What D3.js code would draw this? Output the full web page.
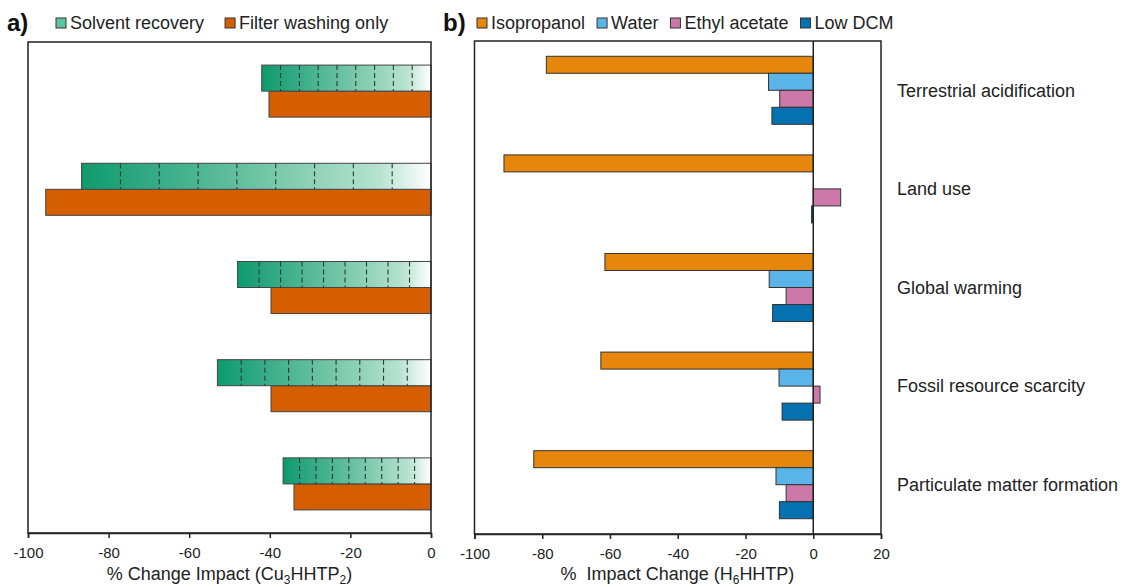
<!DOCTYPE html>
<html>
<head>
<meta charset="utf-8">
<script src="https://cdn.jsdelivr.net/npm/d3@7"></script>
<style>
  body { margin: 0; background: #fff; }
  svg { font-family: "Liberation Sans", Arial, sans-serif; }
</style>
</head>
<body>
<div id="chart"></div>
<script>
// categories (top to bottom)
const categories = ['Terrestrial acidification', 'Land use', 'Global warming',
                    'Fossil resource scarcity', 'Particulate matter formation'];

// panel a) Cu3HHTP2
const series_a = ['Solvent recovery', 'Filter washing only'];
const solvent_recovery = [-42, -86.7, -48, -53, -36.7];
const filter_washing = [-40.2, -95.6, -39.7, -39.7, -34];

// panel b) H6HHTP
const series_b = ['Isopropanol', 'Water', 'Ethyl acetate', 'Low DCM'];
const isopropanol = [-78.8, -91.3, -61.5, -62.7, -82.5];
const water = [-13.2, 0, -13, -10.1, -11];
const ethyl_acetate = [-9.9, 8.1, -8, 2, -8];
const low_dcm = [-12.2, -0.5, -12, -9.2, -10];

const ticks_a = [-100, -80, -60, -40, -20, 0];
const ticks_b = [-100, -80, -60, -40, -20, 0, 20];

const colors_b = ['#e6860a', '#5ab4e8', '#cc78a8', '#0571b1'];
const filter_color = '#d55e00';

const width = 1124, height = 587;
const svg = d3.select('#chart').append('svg')
  .attr('width', width)
  .attr('height', height);

const defs = svg.append('defs');
const grad = defs.append('linearGradient').attr('id', 'green_grad');
grad.append('stop').attr('offset', '0%').attr('stop-color', '#0e9a6e');
grad.append('stop').attr('offset', '45%').attr('stop-color', '#63bf9f');
grad.append('stop').attr('offset', '85%').attr('stop-color', '#b6e2d2');
grad.append('stop').attr('offset', '100%').attr('stop-color', '#ffffff');

// ---------- panel a ----------
const xa = d3.scaleLinear().domain([-100, 0]).range([28, 431]);
const ya = d3.scaleBand().domain(categories).range([42, 533])
  .paddingInner(0.47).paddingOuter(0.235);
const ya_inner = d3.scaleBand().domain(series_a).range([0, ya.bandwidth()]);

const pa = svg.append('g');

const rows_a = categories.map((c, i) => ({cat: c, sr: solvent_recovery[i], fw: filter_washing[i]}));

// filter washing bars
pa.selectAll('rect.fw')
  .data(rows_a)
  .join('rect')
  .attr('class', 'fw')
  .attr('x', d => xa(d.fw))
  .attr('y', d => ya(d.cat) + ya_inner('Filter washing only'))
  .attr('width', d => xa(0) - xa(d.fw))
  .attr('height', ya_inner.bandwidth())
  .attr('fill', filter_color)
  .attr('stroke', '#444')
  .attr('stroke-width', 1);

// solvent recovery bars with gradient and dashed divisions
const sr_g = pa.selectAll('g.sr')
  .data(rows_a)
  .join('g')
  .attr('class', 'sr');

sr_g.append('rect')
  .attr('x', d => xa(d.sr))
  .attr('y', d => ya(d.cat) + ya_inner('Solvent recovery'))
  .attr('width', d => xa(0) - xa(d.sr))
  .attr('height', ya_inner.bandwidth())
  .attr('fill', 'url(#green_grad)')
  .attr('stroke', '#444')
  .attr('stroke-width', 1);

sr_g.each(function(d) {
  const g = d3.select(this);
  const x0 = xa(d.sr), w = xa(0) - xa(d.sr);
  const y0 = ya(d.cat) + ya_inner('Solvent recovery');
  for (let k = 1; k < 9; k++) {
    g.append('line')
      .attr('x1', x0 + w * k / 9).attr('x2', x0 + w * k / 9)
      .attr('y1', y0).attr('y2', y0 + ya_inner.bandwidth())
      .attr('stroke', '#2a3a35')
      .attr('stroke-width', 1.1)
      .attr('stroke-dasharray', '5,3');
  }
});

// frame
pa.append('rect')
  .attr('x', 28).attr('y', 42)
  .attr('width', 431 - 28).attr('height', 533 - 42)
  .attr('fill', 'none').attr('stroke', '#222').attr('stroke-width', 1.5);

const axis_a = pa.append('g')
  .attr('transform', 'translate(0,533)')
  .call(d3.axisBottom(xa).tickValues(ticks_a).tickSize(5).tickPadding(9));
axis_a.select('.domain').attr('stroke', '#222').attr('stroke-width', 1.5);
axis_a.selectAll('.tick line').attr('stroke', '#222').attr('stroke-width', 1.5);
axis_a.selectAll('text').attr('font-size', 15).attr('fill', '#222')
  .attr('font-family', '"Liberation Sans", Arial, sans-serif')
  .text(d => d < 0 ? '-' + Math.abs(d) : d);

const title_a = pa.append('text')
  .attr('x', 229.5).attr('y', 580)
  .attr('text-anchor', 'middle')
  .attr('font-size', 18).attr('fill', '#222');
title_a.append('tspan').text('% Change Impact (Cu');
title_a.append('tspan').attr('font-size', 12).attr('dy', 4).text('3');
title_a.append('tspan').attr('dy', -4).text('HHTP');
title_a.append('tspan').attr('font-size', 12).attr('dy', 4).text('2');
title_a.append('tspan').attr('dy', -4).text(')');

// ---------- panel b ----------
const xb = d3.scaleLinear().domain([-100, 20]).range([474.5, 881]);
const yb = d3.scaleBand().domain(categories).range([41, 534])
  .paddingInner(0.31).paddingOuter(0.155);
const yb_inner = d3.scaleBand().domain(series_b).range([0, yb.bandwidth()]);

const values_b = [isopropanol, water, ethyl_acetate, low_dcm];
const rows_b = [];
categories.forEach((c, i) => {
  series_b.forEach((s, j) => rows_b.push({cat: c, series: s, v: values_b[j][i], color: colors_b[j]}));
});

const pb = svg.append('g');

pb.selectAll('rect.bar')
  .data(rows_b.filter(d => d.v !== 0))
  .join('rect')
  .attr('class', 'bar')
  .attr('x', d => xb(Math.min(0, d.v)))
  .attr('y', d => yb(d.cat) + yb_inner(d.series))
  .attr('width', d => Math.abs(xb(d.v) - xb(0)))
  .attr('height', yb_inner.bandwidth())
  .attr('fill', d => d.color)
  .attr('stroke', '#333')
  .attr('stroke-width', 1);

pb.append('rect')
  .attr('x', 474.5).attr('y', 41)
  .attr('width', 881 - 474.5).attr('height', 534 - 41)
  .attr('fill', 'none').attr('stroke', '#222').attr('stroke-width', 1.5);

pb.append('line')
  .attr('x1', xb(0)).attr('x2', xb(0))
  .attr('y1', 41).attr('y2', 534)
  .attr('stroke', '#222').attr('stroke-width', 1.5);

const axis_b = pb.append('g')
  .attr('transform', 'translate(0,534)')
  .call(d3.axisBottom(xb).tickValues(ticks_b).tickSize(5).tickPadding(9));
axis_b.select('.domain').attr('stroke', '#222').attr('stroke-width', 1.5);
axis_b.selectAll('.tick line').attr('stroke', '#222').attr('stroke-width', 1.5);
axis_b.selectAll('text').attr('font-size', 15).attr('fill', '#222')
  .attr('font-family', '"Liberation Sans", Arial, sans-serif')
  .text(d => d < 0 ? '-' + Math.abs(d) : d);

const title_b = pb.append('text')
  .attr('x', 677.5).attr('y', 580)
  .attr('text-anchor', 'middle')
  .attr('font-size', 18).attr('fill', '#222')
  .style('white-space', 'pre');
title_b.append('tspan').text('%  Impact Change (H');
title_b.append('tspan').attr('font-size', 12).attr('dy', 4).text('6');
title_b.append('tspan').attr('dy', -4).text('HHTP)');

// category labels
pb.selectAll('text.cat')
  .data(categories)
  .join('text')
  .attr('class', 'cat')
  .attr('x', 897)
  .attr('y', d => yb(d) + yb.bandwidth() / 2)
  .attr('dy', '0.35em')
  .attr('font-size', 18)
  .attr('fill', '#222')
  .text(d => d);

// ---------- legends ----------
function legend(x, y, items, gap) {
  const g = svg.append('g');
  let cx = x;
  items.forEach(it => {
    g.append('rect')
      .attr('x', cx).attr('y', y - 11)
      .attr('width', 10).attr('height', 10)
      .attr('fill', it.color).attr('stroke', '#333').attr('stroke-width', 1);
    const t = g.append('text')
      .attr('x', cx + 14).attr('y', y)
      .attr('font-size', 18).attr('fill', '#222')
      .text(it.name);
    cx += 14 + t.node().getComputedTextLength() + gap;
  });
}

legend(56, 29, [{name: series_a[0], color: '#5cc4a2'}, {name: series_a[1], color: filter_color}], 21);
legend(477, 29, series_b.map((s, i) => ({name: s, color: colors_b[i]})), 12);

svg.append('text').attr('x', 7).attr('y', 31)
  .attr('font-size', 24).attr('font-weight', 'bold').attr('fill', '#111').text('a)');
svg.append('text').attr('x', 443).attr('y', 31)
  .attr('font-size', 24).attr('font-weight', 'bold').attr('fill', '#111').text('b)');
</script>
</body>
</html>
